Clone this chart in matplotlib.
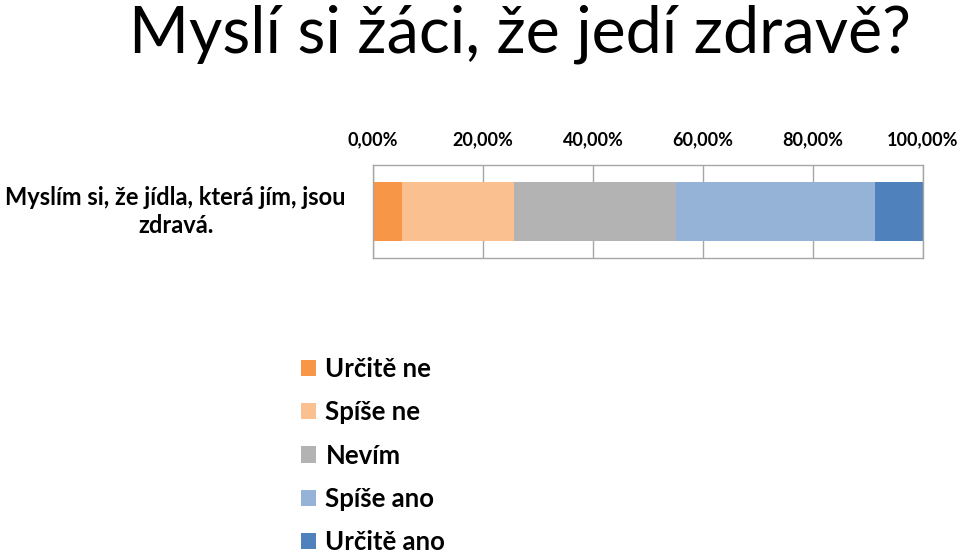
import numpy as np
import matplotlib.pyplot as plt
from matplotlib.ticker import FuncFormatter

# Data
kategorie = ['Myslím si, že jídla, která jím, jsou\nzdravá.']
odpovedi = ['Určitě ne', 'Spíše ne', 'Nevím', 'Spíše ano', 'Určitě ano']
podily = [5.2, 20.4, 29.4, 36.2, 8.8]  # procenta
barvy = ['#F79646', '#FAC090', '#B3B3B3', '#95B3D7', '#4F81BD']
osa_ticky = [0, 20, 40, 60, 80, 100]

plt.rcParams['font.family'] = ['Lato', 'DejaVu Sans']

W, H = 959, 553
fig = plt.figure(figsize=(W / 100, H / 100), dpi=100)
ax = fig.add_axes([373 / W, 1 - 258 / H, (923 - 373) / W, (258 - 165) / H])

# skladany vodorovny sloupec
y = np.arange(len(kategorie))
zleva = 0
for nazev, hodnota, barva in zip(odpovedi, podily, barvy):
    ax.barh(y, hodnota, left=zleva, height=0.645, color=barva, label=nazev, zorder=2)
    zleva += hodnota

ax.set_xlim(0, 100)
ax.set_ylim(-0.5, 0.5)
ax.set_xticks(osa_ticky)
ax.xaxis.set_major_formatter(FuncFormatter(lambda v, p: f'{v:.2f}%'.replace('.', ',')))
ax.xaxis.tick_top()
ax.tick_params(axis='x', length=0, pad=12, labelsize=13)
for t in ax.get_xticklabels():
    t.set_fontweight('bold')
ax.grid(axis='x', color='#A6A6A6', linewidth=1, zorder=1)

ax.set_yticks(y)
ax.set_yticklabels(kategorie, fontsize=17, fontweight='bold', multialignment='center',
                   linespacing=1.3, va='center')
ax.tick_params(axis='y', length=0, pad=19.5)

for s in ax.spines.values():
    s.set_color('#A6A6A6')
    s.set_linewidth(1)

fig.text(129 / W, 1 - 52 / H, 'Myslí si žáci, že jedí zdravě?', fontsize=46.5,
         va='baseline', ha='left')

leg = fig.legend(loc='upper left', bbox_to_anchor=(301 / W, 1 - 357 / H),
                 frameon=False, fontsize=18.5, handlelength=0.6, handleheight=0.6,
                 handletextpad=0.35, labelspacing=0.75, borderpad=0, borderaxespad=0)
for t in leg.get_texts():
    t.set_fontweight('bold')

plt.savefig('out.png', dpi=100)
